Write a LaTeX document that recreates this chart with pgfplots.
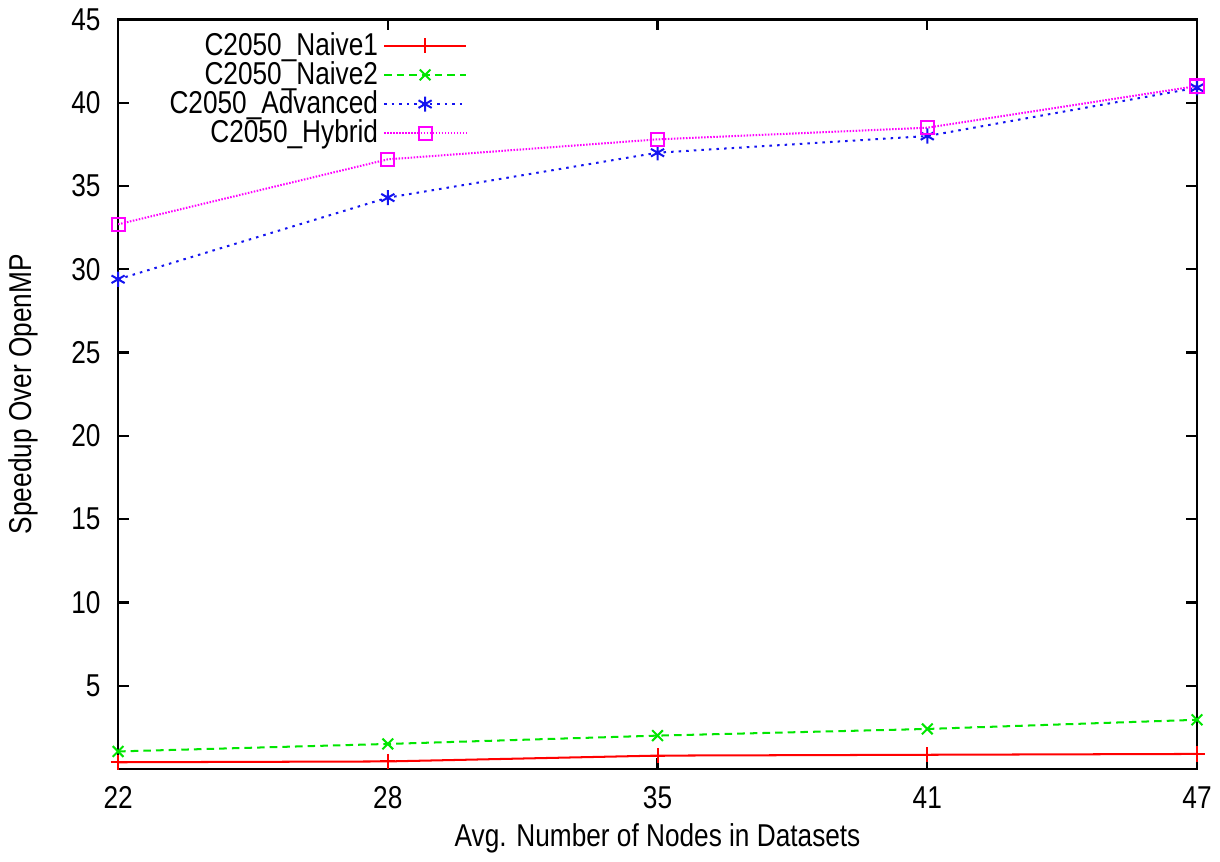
\documentclass[border=0pt]{standalone}
\usepackage{pgfplots}
\pgfplotsset{compat=1.18}
\usepackage{fontspec}
\setmainfont[FakeStretch=0.83]{Liberation Sans}
\definecolor{gpgreen}{RGB}{0,230,0}
\definecolor{gpblue}{RGB}{20,20,240}
\definecolor{gpmag}{RGB}{255,0,255}
\begin{document}
\begin{tikzpicture}
\begin{axis}[
    scale only axis,
    width=15.0cm, height=10.42cm,
    xmin=0, xmax=4, ymin=0, ymax=45,
    xtick={0,1,2,3,4},
    xticklabels={22,28,35,41,47},
    ytick={5,10,...,45},
    tick align=inside,
    major tick length=0.15cm,
    axis line style={black, line width=0.9pt},
    tick style={black, line width=0.9pt},
    every tick label/.append style={font=\fontsize{12.5}{14}\selectfont},
    yticklabel style={xshift=-0.12cm},
    xticklabel style={yshift=-0.12cm},
    /pgf/number format/assume math mode=true,
    xlabel={Avg. Number of Nodes in Datasets},
    ylabel={Speedup Over OpenMP},
    label style={font=\fontsize{12.5}{14}\selectfont},
    xlabel style={at={(axis description cs:0.5,-0.092)}, anchor=center},
    ylabel style={at={(axis description cs:-0.088,0.5)}, anchor=center},
    legend style={draw=none, fill=none, at={(0.331,0.997)}, anchor=north east,
        font=\fontsize{12.5}{14}\selectfont, row sep=-3pt,
        /tikz/every even column/.append style={column sep=0.12cm}},
    legend cell align=right,
    legend plot pos=right,
    legend image code/.code={
        \draw[mark repeat=2,mark phase=2]
        plot coordinates {(0cm,0cm) (0.57cm,0cm) (1.14cm,0cm)};
    },
]
\addplot[red, line width=0.8pt, mark=+, mark size=3pt, mark options={solid}]
  coordinates {(0,0.4) (1,0.45) (2,0.8) (3,0.85) (4,0.9)};
\addlegendentry{C2050\_Naive1}
\addplot[gpgreen, line width=0.8pt, dash pattern=on 3pt off 2pt, mark=x, mark size=3pt, mark options={solid}]
  coordinates {(0,1.05) (1,1.5) (2,2.0) (3,2.4) (4,2.95)};
\addlegendentry{C2050\_Naive2}
\addplot[gpblue, line width=0.8pt, dash pattern=on 1pt off 2pt, mark=asterisk, mark size=3pt, mark options={solid}]
  coordinates {(0,29.4) (1,34.3) (2,37.0) (3,38.0) (4,40.9)};
\addlegendentry{C2050\_Advanced}
\addplot[gpmag, line width=0.8pt, dash pattern=on 0.6pt off 0.6pt, mark=square, mark size=2.6pt, mark options={solid}]
  coordinates {(0,32.7) (1,36.6) (2,37.8) (3,38.5) (4,41.0)};
\addlegendentry{C2050\_Hybrid}
\end{axis}
\end{tikzpicture}
\end{document}
